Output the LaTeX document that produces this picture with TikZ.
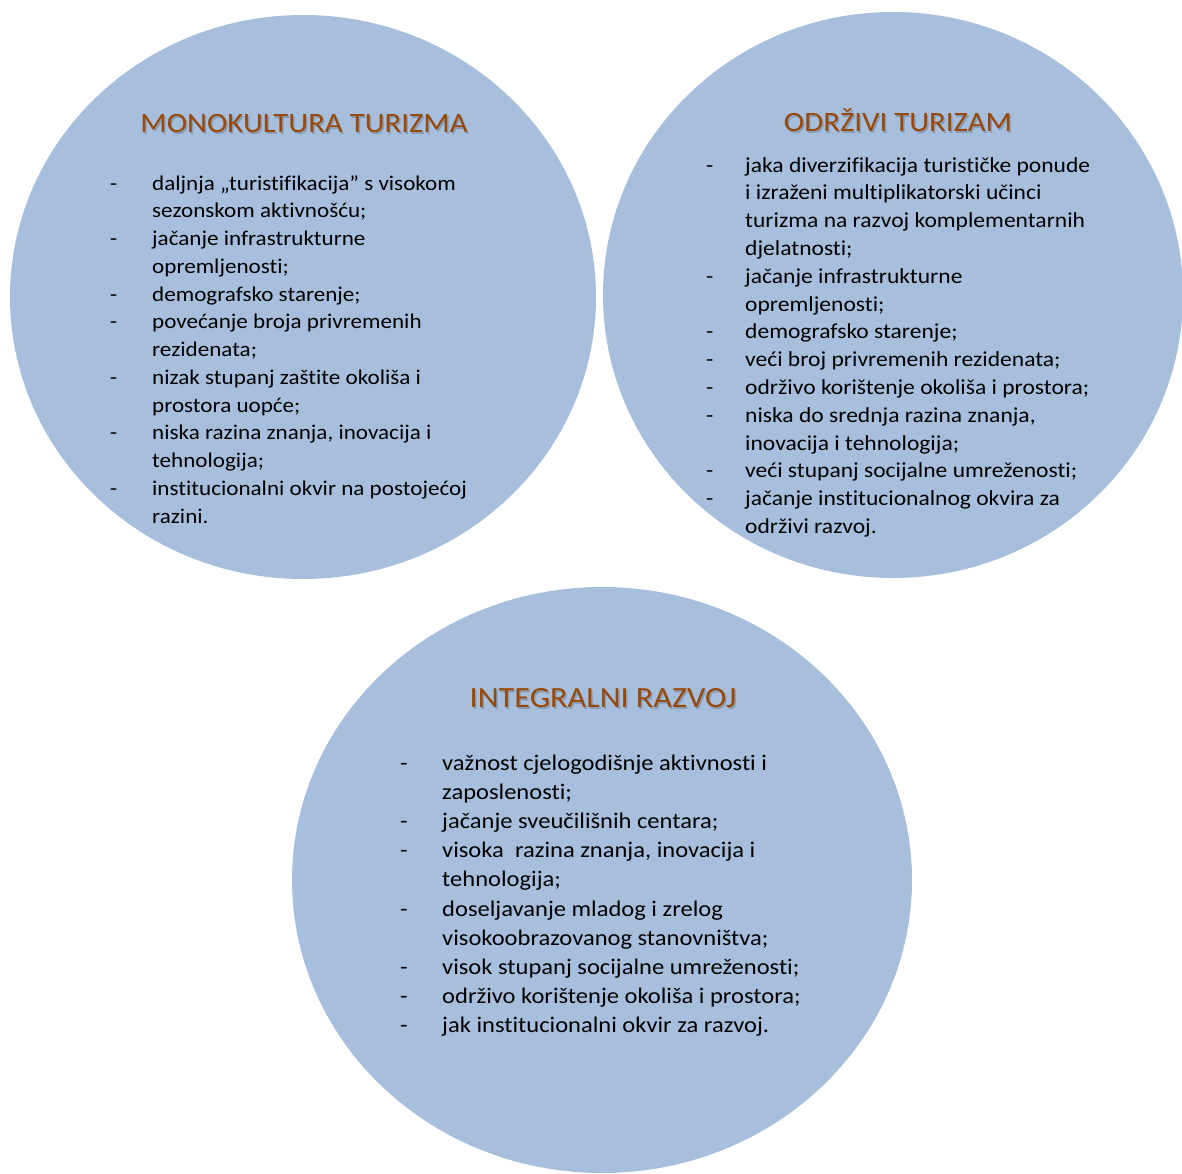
\documentclass[tikz,border=0pt]{standalone}
\usepackage{fontspec}
\setmainfont{Carlito}[Ligatures=CommonOff,FakeStretch=1.1]
\usepackage{array}
\usetikzlibrary{positioning}
\definecolor{krug}{RGB}{167,191,221}
\definecolor{naslov}{RGB}{152,72,7}
\tikzset{
  krug/.style={fill=krug},
  naslov/.style={text=naslov,font=\fontsize{28}{34}\selectfont,inner sep=0pt},
  sjena/.style={text=black,opacity=0.18,font=\fontsize{28}{34}\selectfont,inner sep=0pt},
  popis/.style={anchor=base west,inner sep=0pt,align=left,font=\fontsize{21}{27.75}\selectfont}
}
\begin{document}
\begin{tikzpicture}[x=1pt,y=-1pt]
  \useasboundingbox (0,0) rectangle (1182,1173);
  \clip (0,0) rectangle (1182,1173);
  \fill[krug] (303,297) ellipse (293 and 282);
  \fill[krug] (893,295) ellipse (290 and 283);
  \fill[krug] (602,880) ellipse (310 and 293);
  % naslovi
  \node[sjena] at (305.5,126) {MONOKULTURA TURIZMA};
  \node[naslov] (mono) at (304,124) {MONOKULTURA TURIZMA};
  \node[sjena] at (899.5,122) {ODRŽIVI TURIZAM};
  \node[naslov] (odr) at (898,120) {ODRŽIVI TURIZAM};
  \node[sjena,font=\fontsize{29.3}{35}\selectfont] at (604.5,700) {INTEGRALNI RAZVOJ};
  \node[naslov,font=\fontsize{29.3}{35}\selectfont] (int) at (603,698) {INTEGRALNI RAZVOJ};
  % popisi
  \node[popis] (lijevo) at (110,190) {%
    \begin{tabular}[t]{@{}p{42pt}@{}l@{}}
    - & daljnja „turistifikacija” s visokom \\
      & sezonskom aktivnošću; \\
    - & jačanje infrastrukturne \\
      & opremljenosti; \\
    - & demografsko starenje; \\
    - & povećanje broja privremenih \\
      & rezidenata; \\
    - & nizak stupanj zaštite okoliša i \\
      & prostora uopće; \\
    - & niska razina znanja, inovacija i \\
      & tehnologija; \\
    - & institucionalni okvir na postojećoj \\
      & razini.
    \end{tabular}};
  \node[popis,font=\fontsize{21.4}{27.8}\selectfont] (desno) at (706,172) {%
    \begin{tabular}[t]{@{}p{39pt}@{}l@{}}
    - & jaka diverzifikacija turističke ponude \\
      & i izraženi multiplikatorski učinci \\
      & turizma na razvoj komplementarnih \\
      & djelatnosti; \\
    - & jačanje infrastrukturne \\
      & opremljenosti; \\
    - & demografsko starenje; \\
    - & veći broj privremenih rezidenata; \\
    - & održivo korištenje okoliša i prostora; \\
    - & niska do srednja razina znanja, \\
      & inovacija i tehnologija; \\
    - & veći stupanj socijalne umreženosti; \\
    - & jačanje institucionalnog okvira za \\
      & održivi razvoj.
    \end{tabular}};
  \node[popis,font=\fontsize{22.3}{29.2}\selectfont] (dolje) at (400,770) {%
    \begin{tabular}[t]{@{}p{42pt}@{}l@{}}
    - & važnost cjelogodišnje aktivnosti i \\
      & zaposlenosti; \\
    - & jačanje sveučilišnih centara; \\
    - & visoka \ razina znanja, inovacija i \\
      & tehnologija; \\
    - & doseljavanje mladog i zrelog \\
      & visokoobrazovanog stanovništva; \\
    - & visok stupanj socijalne umreženosti; \\
    - & održivo korištenje okoliša i prostora; \\
    - & jak institucionalni okvir za razvoj.
    \end{tabular}};
\end{tikzpicture}
\end{document}
